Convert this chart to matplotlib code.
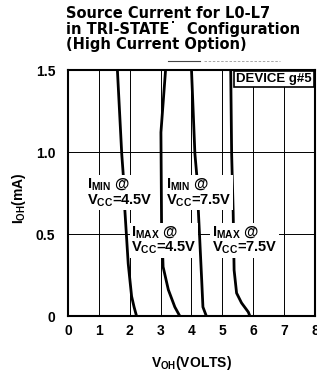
import matplotlib
matplotlib.use("Agg")
import matplotlib.pyplot as plt
from matplotlib.lines import Line2D

plt.rcParams['font.family'] = ['Liberation Sans', 'DejaVu Sans']
plt.rcParams['mathtext.fontset'] = 'custom'
plt.rcParams['mathtext.rm'] = 'Liberation Sans:bold'
plt.rcParams['mathtext.bf'] = 'Liberation Sans:bold'
plt.rcParams['mathtext.it'] = 'Liberation Sans:bold'

# Data
imin45_v = [1.60, 1.74, 1.79, 1.84, 1.95, 2.06, 2.14, 2.22]
imin45_i = [1.50, 0.99, 0.86, 0.65, 0.32, 0.12, 0.055, 0.0]
imax45_v = [3.16, 3.01, 3.03, 3.08, 3.25, 3.46, 3.62]
imax45_i = [1.50, 1.12, 0.57, 0.30, 0.16, 0.055, 0.0]
imin75_v = [4.00, 4.11, 4.17, 4.22, 4.33, 4.37, 4.48]
imin75_i = [1.50, 0.99, 0.86, 0.65, 0.22, 0.055, 0.0]
imax75_v = [5.27, 5.30, 5.35, 5.38, 5.46, 5.62, 5.84, 5.89]
imax75_i = [1.50, 0.99, 0.63, 0.28, 0.14, 0.08, 0.024, 0.0]

x_ticks = [0, 1, 2, 3, 4, 5, 6, 7, 8]
y_ticks = [0, 0.5, 1.0, 1.5]
y_tick_labels = ["0", "0.5", "1.0", "1.5"]

labels = [
    (r"$\mathrm{I_{MIN}}$ @" + "\n" + r"$\mathrm{V_{CC}}$=4.5V", 0.61, 0.753),
    (r"$\mathrm{I_{MAX}}$ @" + "\n" + r"$\mathrm{V_{CC}}$=4.5V", 2.04, 0.463),
    (r"$\mathrm{I_{MIN}}$ @" + "\n" + r"$\mathrm{V_{CC}}$=7.5V", 3.17, 0.753),
    (r"$\mathrm{I_{MAX}}$ @" + "\n" + r"$\mathrm{V_{CC}}$=7.5V", 4.66, 0.463),
]

fig = plt.figure(figsize=(3.17, 3.75), dpi=100)
ax = fig.add_axes([0.2145, 0.1573, 0.9937 - 0.2145, 0.8133 - 0.1573])
ax.set_xlim(0, 8)
ax.set_ylim(0, 1.5)

for v in x_ticks[1:-1]:
    ax.axvline(v, color='black', lw=0.7, zorder=1)
for i in [0.5, 1.0]:
    ax.axhline(i, color='black', lw=0.7, zorder=1)

for vs, cs in [(imin45_v, imin45_i), (imax45_v, imax45_i),
               (imin75_v, imin75_i), (imax75_v, imax75_i)]:
    ax.plot(vs, cs, color='black', lw=2.0, solid_capstyle='butt', zorder=2)

for txt, x, y in labels:
    ax.text(x, y, txt, ha='left', va='center', fontsize=10.5, fontweight='bold',
            linespacing=1.0, zorder=4,
            bbox=dict(boxstyle='square,pad=0.1', fc='white', ec='none'))

ax.text(0.986, 0.986, "DEVICE g#5", transform=ax.transAxes, ha='right', va='top',
        fontsize=9.5, fontweight='bold', zorder=5,
        bbox=dict(boxstyle='square,pad=0.15', fc='white', ec='black', lw=1.2))

ax.set_xticks(x_ticks)
ax.set_xticklabels([str(v) for v in x_ticks], fontsize=10, fontweight='bold')
ax.set_yticks(y_ticks)
ax.set_yticklabels(y_tick_labels, fontsize=10, fontweight='bold')
ax.tick_params(length=0, pad=9)
ax.tick_params(axis='x', pad=6)
for s in ax.spines.values():
    s.set_linewidth(1.5)
    s.set_color('black')

ax.set_xlabel(r"$\mathrm{V_{OH}}$(VOLTS)", fontsize=10, fontweight='bold', labelpad=11)
fig.text(19 / 317, 1 - 198 / 375, r"$\mathrm{I_{OH}}$(mA)", rotation=90, ha='center',
         va='center', fontsize=10, fontweight='bold')

fig.text(0.208, 0.983, "Source Current for L0-L7\nin TRI-STATE\u02d9  Configuration\n(High Current Option)",
         ha='left', va='top', fontsize=10.5, fontweight='bold', linespacing=1.0,
         family=['DejaVu Sans'])

fig.add_artist(Line2D([168 / 317, 200 / 317], [1 - 61 / 375, 1 - 61 / 375],
                      color='#444444', lw=0.8))
fig.add_artist(Line2D([204 / 317, 280 / 317], [1 - 61 / 375, 1 - 61 / 375],
                      color='#999999', lw=0.6, ls=(0, (3, 2))))

fig.savefig("out.png", dpi=100)
